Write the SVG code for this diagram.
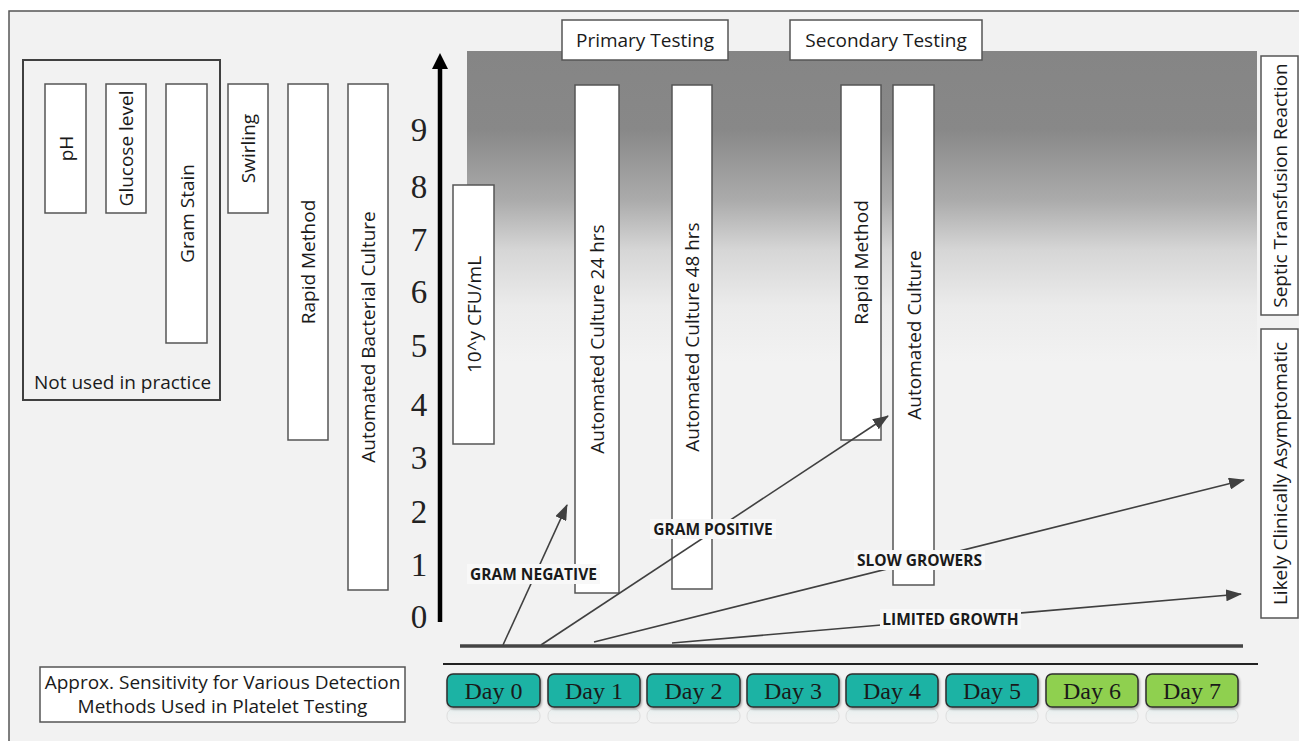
<svg xmlns="http://www.w3.org/2000/svg" width="1299" height="741" viewBox="0 0 1299 741">
<style>
.box{fill:#ffffff;stroke:#555555;stroke-width:1.5}
.t{font-family:"Open Sans","Liberation Sans",sans-serif;font-size:19px;fill:#1a1a1a}
.v{font-family:"Open Sans","Liberation Sans",sans-serif;font-size:19px;fill:#1a1a1a;text-anchor:middle;dominant-baseline:central}
.num{font-family:"Liberation Serif","Times New Roman",serif;font-size:33px;fill:#222;text-anchor:middle}
.lbl{font-family:"Open Sans","Liberation Sans",sans-serif;font-size:15.5px;font-weight:bold;fill:#1a1a1a;text-anchor:middle}
.lblbg{fill:#f8f8f8}
.conn{stroke:#404040;stroke-width:1.6;fill:none}
.day{stroke:#2e2e2e;stroke-width:1.5}
.dayt{font-family:"Liberation Serif","Times New Roman",serif;font-size:24px;fill:#1a1a1a;text-anchor:middle}
.refl{fill:url(#reflg);stroke:#cfcfcf;stroke-width:1;opacity:0.6}
</style>
<defs>
<linearGradient id="bggrad" x1="0" y1="51" x2="0" y2="362" gradientUnits="userSpaceOnUse">
<stop offset="0" stop-color="#858585"/>
<stop offset="0.25" stop-color="#888888"/>
<stop offset="0.48" stop-color="#ababab"/>
<stop offset="0.64" stop-color="#d6d6d6"/>
<stop offset="0.82" stop-color="#ebebeb"/>
<stop offset="1" stop-color="#f2f2f2"/>
</linearGradient>
<linearGradient id="reflg" x1="0" y1="0" x2="0" y2="1">
<stop offset="0" stop-color="#dfeeee"/>
<stop offset="1" stop-color="#f2f2f2" stop-opacity="0"/>
</linearGradient>
<marker id="ah" markerUnits="userSpaceOnUse" markerWidth="16" markerHeight="12" viewBox="0 0 16 12" refX="15" refY="6" orient="auto">
<path d="M0,0 L16,6 L0,12 z" fill="#404040"/>
</marker>
<filter id="sh" x="-10%" y="-20%" width="130%" height="150%">
<feDropShadow dx="1" dy="1.5" stdDeviation="1.2" flood-color="#000" flood-opacity="0.35"/>
</filter>
</defs>

<rect x="0" y="0" width="1299" height="741" fill="#ffffff"/>
<rect x="9" y="11" width="1300" height="740" fill="#f2f2f2" stroke="#555555" stroke-width="1.5"/>

<rect id="shade" x="467" y="51" width="790" height="311" fill="url(#bggrad)"/>

<g id="not-used">
<rect x="23" y="60" width="197" height="340" fill="none" stroke="#404040" stroke-width="2"/>
<text class="t" x="34" y="389">Not used in practice</text>
</g>
<g id="ph"><rect class="box" x="45" y="84" width="41" height="129"/><text class="v" transform="translate(65.5,148.5) rotate(-90)">pH</text></g>
<g id="glucose"><rect class="box" x="106" y="84" width="40" height="129"/><text class="v" transform="translate(126,148.5) rotate(-90)">Glucose level</text></g>
<g id="gram-stain"><rect class="box" x="166" y="84" width="41" height="259"/><text class="v" transform="translate(186.5,213.5) rotate(-90)">Gram Stain</text></g>
<g id="swirling"><rect class="box" x="228" y="84" width="40" height="129"/><text class="v" transform="translate(248,148.5) rotate(-90)">Swirling</text></g>
<g id="rapid-method-1"><rect class="box" x="288" y="84" width="40" height="356"/><text class="v" transform="translate(308,262) rotate(-90)">Rapid Method</text></g>
<g id="auto-bact-culture"><rect class="box" x="348" y="84" width="40" height="506"/><text class="v" transform="translate(368,337) rotate(-90)">Automated Bacterial Culture</text></g>

<g id="axis">
<line x1="440" y1="622" x2="440" y2="66" stroke="#000" stroke-width="4.5"/>
<path d="M440,53 L448,69 L432,69 z" fill="#000"/>
<text class="num" x="419" y="141">9</text>
<text class="num" x="419" y="198">8</text>
<text class="num" x="419" y="251">7</text>
<text class="num" x="419" y="303">6</text>
<text class="num" x="419" y="357">5</text>
<text class="num" x="419" y="416">4</text>
<text class="num" x="419" y="469">3</text>
<text class="num" x="419" y="523">2</text>
<text class="num" x="419" y="576">1</text>
<text class="num" x="419" y="628">0</text>
</g>

<g id="primary-testing"><rect class="box" x="562" y="20" width="166" height="40"/><text class="t" x="645" y="47" text-anchor="middle">Primary Testing</text></g>
<g id="secondary-testing"><rect class="box" x="790" y="20" width="192" height="40"/><text class="t" x="886" y="47" text-anchor="middle">Secondary Testing</text></g>

<g id="cfu"><rect class="box" x="453" y="185" width="41" height="259"/><text class="v" transform="translate(473.5,314.5) rotate(-90)">10^y CFU/mL</text></g>
<g id="auto-culture-24"><rect class="box" x="575" y="85" width="44" height="508"/><text class="v" transform="translate(597,339) rotate(-90)">Automated Culture 24 hrs</text></g>
<g id="auto-culture-48"><rect class="box" x="672" y="85" width="40" height="504"/><text class="v" transform="translate(692,337) rotate(-90)">Automated Culture 48 hrs</text></g>
<g id="rapid-method-2"><rect class="box" x="841" y="85" width="40" height="355"/><text class="v" transform="translate(861,262.5) rotate(-90)">Rapid Method</text></g>
<g id="auto-culture"><rect class="box" x="893" y="85" width="41" height="500"/><text class="v" transform="translate(913.5,335) rotate(-90)">Automated Culture</text></g>
<g id="septic"><rect class="box" x="1261" y="56" width="37" height="259"/><text class="v" transform="translate(1279.5,185.5) rotate(-90)">Septic Transfusion Reaction</text></g>
<g id="asymptomatic"><rect class="box" x="1261" y="329" width="37" height="289"/><text class="v" transform="translate(1279.5,473.5) rotate(-90)">Likely Clinically Asymptomatic</text></g>

<g id="connectors">
<line class="conn" x1="503" y1="645" x2="567" y2="505" marker-end="url(#ah)"/>
<line class="conn" x1="541" y1="645" x2="888" y2="416" marker-end="url(#ah)"/>
<line class="conn" x1="594" y1="642" x2="1244" y2="480" marker-end="url(#ah)"/>
<line class="conn" x1="672" y1="643" x2="1241" y2="594" marker-end="url(#ah)"/>
</g>

<g id="labels">
<rect class="lblbg" x="467" y="564" width="133" height="20"/>
<text class="lbl" x="533.5" y="580">GRAM NEGATIVE</text>
<rect class="lblbg" x="650" y="519" width="126" height="20"/>
<text class="lbl" x="713" y="535">GRAM POSITIVE</text>
<rect class="lblbg" x="854" y="550" width="131" height="20"/>
<text class="lbl" x="919.5" y="566">SLOW GROWERS</text>
<rect class="lblbg" x="880" y="609" width="141" height="20"/>
<text class="lbl" x="950.5" y="625">LIMITED GROWTH</text>
</g>

<g id="timeline">
<line x1="460" y1="646" x2="1243" y2="646" stroke="#444" stroke-width="3.5"/>
<line x1="443" y1="664" x2="1258" y2="664" stroke="#222" stroke-width="2"/>
</g>

<g id="caption">
<rect x="40" y="667" width="365" height="55" fill="#ffffff" stroke="#555" stroke-width="1.5"/>
<text class="t" x="222.5" y="689" text-anchor="middle">Approx. Sensitivity for Various Detection</text>
<text class="t" x="222.5" y="713" text-anchor="middle">Methods Used in Platelet Testing</text>
</g>

<g id="days">
<g id="day0"><rect class="refl" x="447" y="709" width="93" height="14" rx="6"/><rect class="day" x="447" y="674" width="93" height="33" rx="6" fill="#1fb3a4" filter="url(#sh)"/><text class="dayt" x="493.5" y="699">Day 0</text></g>
<g id="day1"><rect class="refl" x="548" y="709" width="92" height="14" rx="6"/><rect class="day" x="548" y="674" width="92" height="33" rx="6" fill="#1fb3a4" filter="url(#sh)"/><text class="dayt" x="594" y="699">Day 1</text></g>
<g id="day2"><rect class="refl" x="647" y="709" width="93" height="14" rx="6"/><rect class="day" x="647" y="674" width="93" height="33" rx="6" fill="#1fb3a4" filter="url(#sh)"/><text class="dayt" x="693.5" y="699">Day 2</text></g>
<g id="day3"><rect class="refl" x="747" y="709" width="92" height="14" rx="6"/><rect class="day" x="747" y="674" width="92" height="33" rx="6" fill="#1fb3a4" filter="url(#sh)"/><text class="dayt" x="793" y="699">Day 3</text></g>
<g id="day4"><rect class="refl" x="846" y="709" width="92" height="14" rx="6"/><rect class="day" x="846" y="674" width="92" height="33" rx="6" fill="#1fb3a4" filter="url(#sh)"/><text class="dayt" x="892" y="699">Day 4</text></g>
<g id="day5"><rect class="refl" x="946" y="709" width="92" height="14" rx="6"/><rect class="day" x="946" y="674" width="92" height="33" rx="6" fill="#1fb3a4" filter="url(#sh)"/><text class="dayt" x="992" y="699">Day 5</text></g>
<g id="day6"><rect class="refl" x="1046" y="709" width="92" height="14" rx="6"/><rect class="day" x="1046" y="674" width="92" height="33" rx="6" fill="#8fd04f" filter="url(#sh)"/><text class="dayt" x="1092" y="699">Day 6</text></g>
<g id="day7"><rect class="refl" x="1146" y="709" width="92" height="14" rx="6"/><rect class="day" x="1146" y="674" width="92" height="33" rx="6" fill="#8fd04f" filter="url(#sh)"/><text class="dayt" x="1192" y="699">Day 7</text></g>
</g>
</svg>
